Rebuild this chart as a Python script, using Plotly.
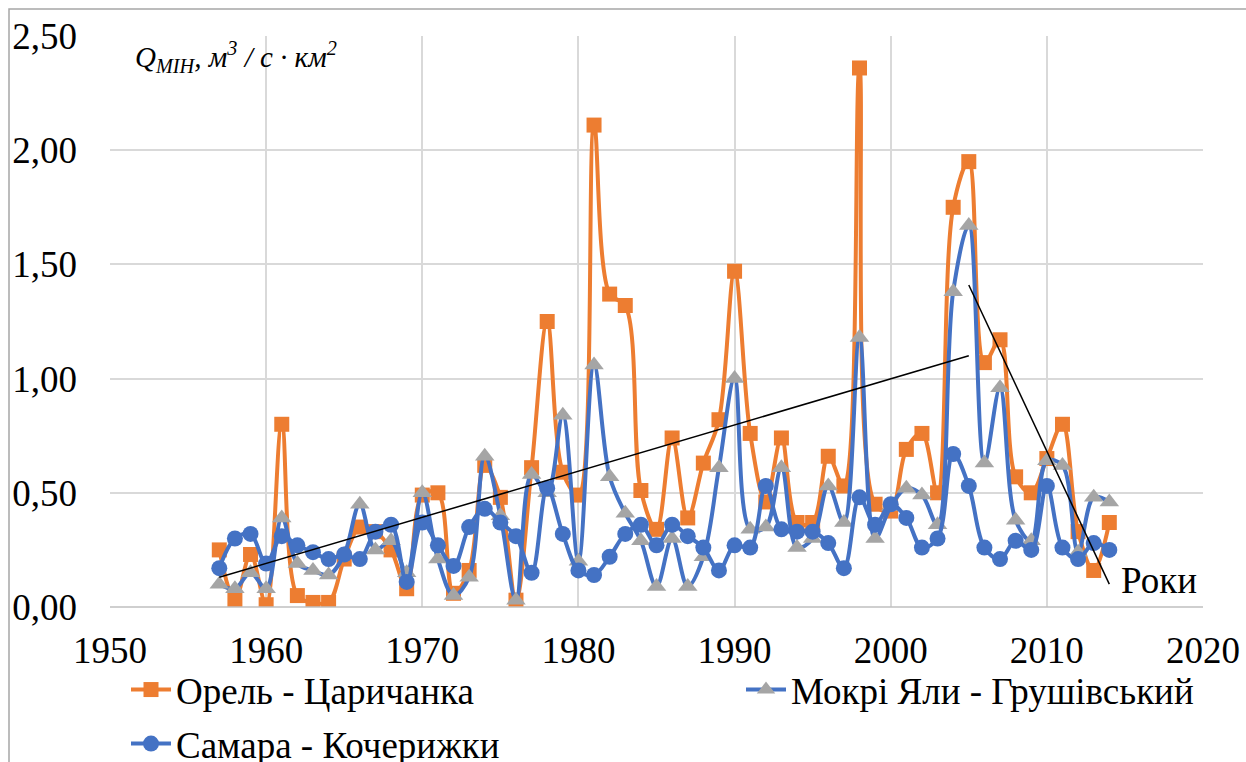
import plotly.graph_objects as go

# Роки спостережень
years = list(range(1957, 2015))

# Модуль мінімального стоку, м3/с·км2
orel = [0.25, 0.03, 0.23, 0.01, 0.80, 0.05, 0.02, 0.02, 0.21, 0.35,
        0.33, 0.25, 0.08, 0.49, 0.50, 0.06, 0.16, 0.62, 0.48, 0.03,
        0.61, 1.25, 0.59, 0.49, 2.11, 1.37, 1.32, 0.51, 0.34, 0.74,
        0.39, 0.63, 0.82, 1.47, 0.76, 0.46, 0.74, 0.37, 0.37, 0.66,
        0.53, 2.36, 0.45, 0.42, 0.69, 0.76, 0.50, 1.75, 1.95, 1.07,
        1.17, 0.57, 0.50, 0.65, 0.80, 0.33, 0.16, 0.37]

mokri_yaly = [0.10, 0.08, 0.15, 0.08, 0.39, 0.19, 0.16, 0.14, 0.23, 0.45,
              0.25, 0.29, 0.15, 0.50, 0.21, 0.05, 0.13, 0.66, 0.40, 0.03,
              0.58, 0.50, 0.84, 0.20, 1.06, 0.57, 0.41, 0.29, 0.09, 0.30,
              0.09, 0.22, 0.61, 1.00, 0.34, 0.35, 0.61, 0.26, 0.30, 0.53,
              0.37, 1.18, 0.30, 0.44, 0.52, 0.49, 0.36, 1.38, 1.67, 0.63,
              0.96, 0.38, 0.29, 0.64, 0.62, 0.24, 0.48, 0.46]

samara = [0.17, 0.30, 0.32, 0.19, 0.31, 0.27, 0.24, 0.21, 0.23, 0.21,
          0.33, 0.36, 0.11, 0.37, 0.27, 0.18, 0.35, 0.43, 0.37, 0.31,
          0.15, 0.52, 0.32, 0.16, 0.14, 0.22, 0.32, 0.36, 0.27, 0.36,
          0.31, 0.26, 0.16, 0.27, 0.26, 0.53, 0.34, 0.33, 0.33, 0.28,
          0.17, 0.48, 0.36, 0.45, 0.39, 0.26, 0.30, 0.67, 0.53, 0.26,
          0.21, 0.29, 0.25, 0.53, 0.26, 0.21, 0.28, 0.25]

# Лінії тенденцій (початок і кінець)
trend_up_x = [1957, 2005]
trend_up_y = [0.13, 1.10]
trend_down_x = [2005, 2014]
trend_down_y = [1.41, 0.10]

y_ticks = [0, 0.5, 1.0, 1.5, 2.0, 2.5]
x_ticks = [1950, 1960, 1970, 1980, 1990, 2000, 2010, 2020]

ORANGE = "#ED7D31"
BLUE = "#4472C4"
GRAY = "#A5A5A5"
FONT = "Liberation Serif"

W, H = 1246, 762
L, R, T, B = 110, 43, 36, 155
PW, PH = W - L - R, H - T - B


def px_x(x):
    return (x - L) / PW


def px_y(y):
    return (H - B - y) / PH


fig = go.Figure()

fig.add_trace(go.Scatter(
    x=years, y=orel, name="Орель - Царичанка", mode="lines+markers",
    line=dict(color=ORANGE, width=4, shape="spline", smoothing=1.0),
    marker=dict(symbol="square", size=15, color=ORANGE),
    legend="legend"))

fig.add_trace(go.Scatter(
    x=years, y=mokri_yaly, name="Мокрі Яли - Грушівський", mode="lines+markers",
    line=dict(color=BLUE, width=4, shape="spline", smoothing=1.0),
    marker=dict(symbol="triangle-up", size=17, color=GRAY),
    legend="legend2"))

fig.add_trace(go.Scatter(
    x=years, y=samara, name="Самара - Кочерижки", mode="lines+markers",
    line=dict(color=BLUE, width=4, shape="spline", smoothing=1.0),
    marker=dict(symbol="circle", size=16, color=BLUE),
    legend="legend3"))

for tx, ty in ((trend_up_x, trend_up_y), (trend_down_x, trend_down_y)):
    fig.add_trace(go.Scatter(
        x=tx, y=ty, mode="lines", showlegend=False, hoverinfo="skip",
        line=dict(color="black", width=1.5)))

legend_style = dict(orientation="h", xanchor="left", yanchor="middle",
                    font=dict(family=FONT, size=37, color="black"),
                    bgcolor="rgba(0,0,0,0)", itemwidth=40)

fig.update_layout(
    template="none",
    width=W, height=H,
    margin=dict(l=L, r=R, t=T, b=B, autoexpand=False),
    paper_bgcolor="white", plot_bgcolor="white",
    separators=", ",
    xaxis=dict(range=[1950, 2020], tickvals=x_ticks, tickformat="d",
               showgrid=True, gridcolor="#D9D9D9", gridwidth=1.5,
               zeroline=False, showline=False, ticks="",
               ticklabelstandoff=18,
               tickfont=dict(family=FONT, size=37, color="black")),
    yaxis=dict(range=[0, 2.5], tickvals=y_ticks, tickformat=".2f",
               showgrid=True, gridcolor="#D9D9D9", gridwidth=1.5,
               zeroline=False, showline=False, ticks="",
               ticklabelstandoff=32,
               tickfont=dict(family=FONT, size=37, color="black")),
    legend=dict(x=px_x(126), y=px_y(690), **legend_style),
    legend2=dict(x=px_x(741), y=px_y(690), **legend_style),
    legend3=dict(x=px_x(126), y=px_y(744), **legend_style),
    showlegend=True,
)

# Нижня лінія осі X
fig.add_shape(type="line", xref="paper", yref="paper", x0=0, x1=1, y0=0, y1=0,
              line=dict(color="#BFBFBF", width=1.5))

# Рамка області діаграми
fig.add_shape(type="rect", xref="paper", yref="paper",
              x0=px_x(9), x1=px_x(1262), y0=px_y(780), y1=px_y(9),
              line=dict(color="#A6A6A6", width=1.5), layer="below")

fig.add_annotation(
    xref="paper", yref="paper", x=px_x(133), y=px_y(57), xanchor="left",
    yanchor="middle", showarrow=False,
    text="<i>Q<sub>МІН</sub>, м<sup>3</sup> / с · км<sup>2</sup></i>",
    font=dict(family=FONT, size=29, color="black"))

fig.add_annotation(
    xref="x", yref="paper", x=2014.6, y=px_y(580), xanchor="left",
    yanchor="middle", showarrow=False, text="Роки",
    font=dict(family=FONT, size=37, color="black"))

fig.write_html("out.html")
